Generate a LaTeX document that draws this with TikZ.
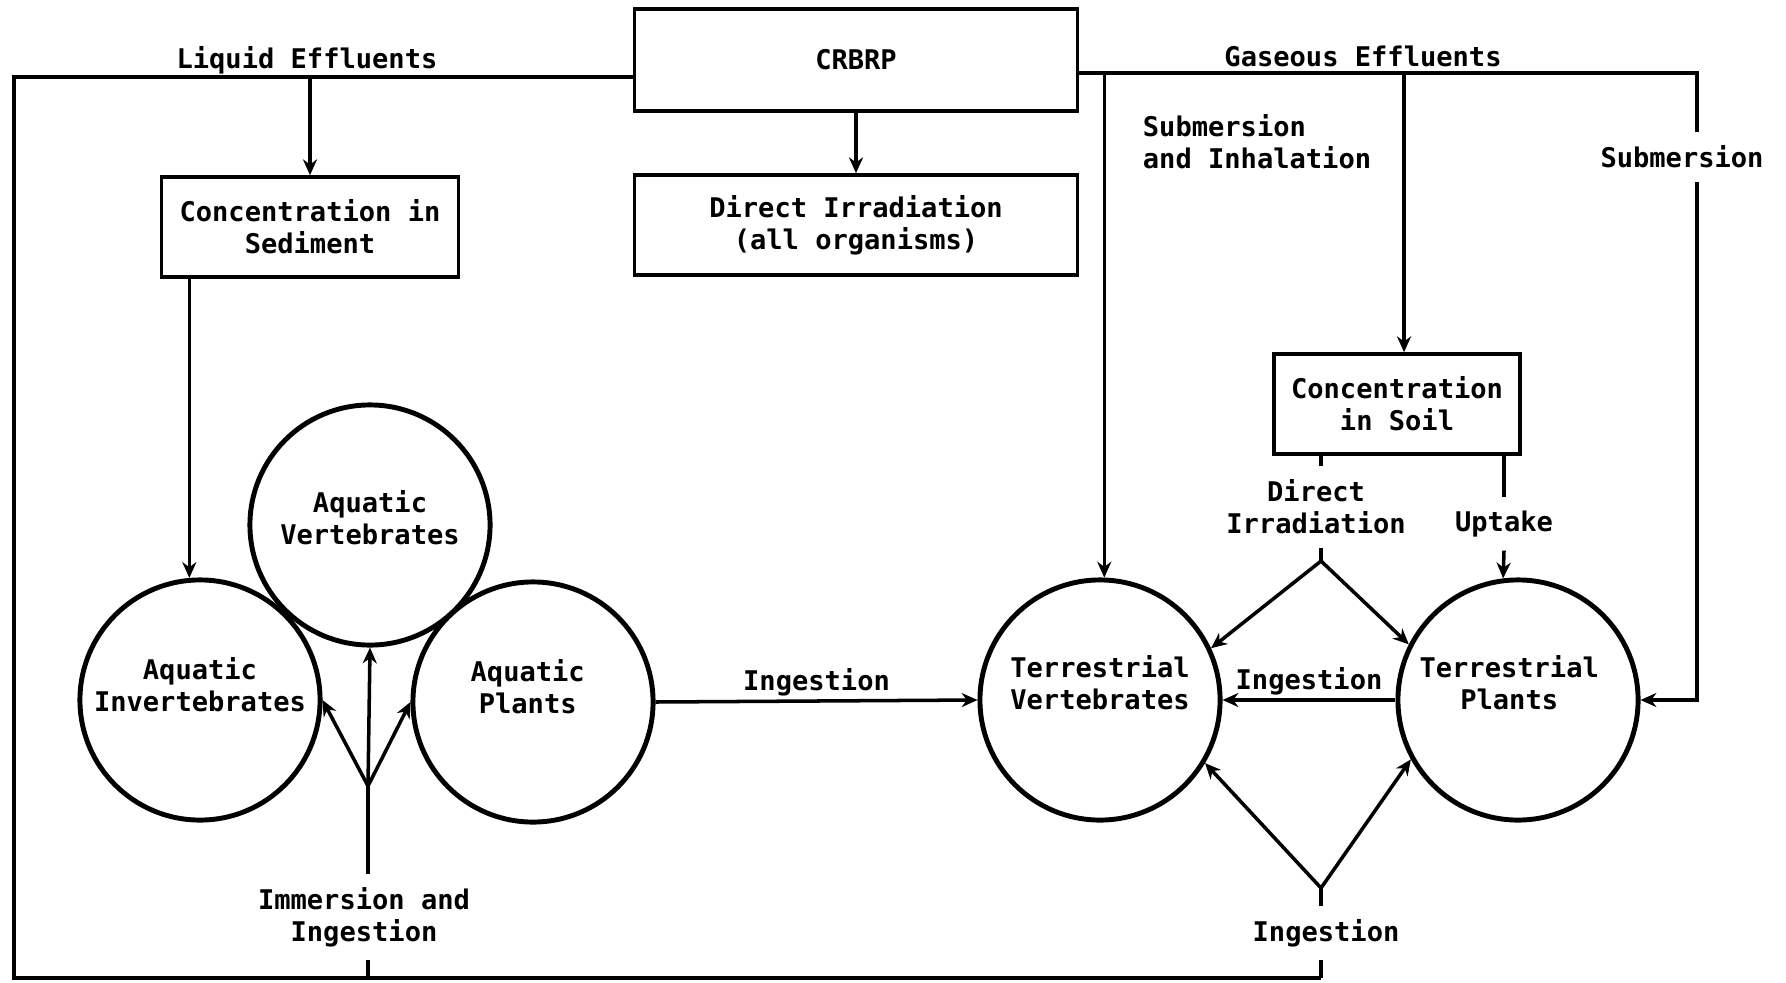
\documentclass[tikz,border=0pt]{standalone}
\usepackage{fontspec}
\setmainfont{DejaVu Sans Mono}
\usetikzlibrary{positioning,arrows.meta}

\tikzset{
  txt/.style={font=\bfseries\fontsize{7.7}{9.1}\selectfont, align=center},
  box/.style={draw, txt, line width=1pt},
  bio/.style={circle, draw, line width=1.4pt, minimum size=2.4cm, inner sep=0pt},
  arr/.style={-{Stealth[length=4.5pt,width=4pt]}}
}

\begin{document}
\begin{tikzpicture}[x=0.01cm, y=-0.01cm, line width=1pt]
    \useasboundingbox (0,0) rectangle (1786,982);

    % boxes
    \node[box, minimum width=4.43cm, minimum height=1.02cm] (crbrp) at (856,60) {CRBRP};
    \node[box, minimum width=4.43cm, minimum height=1cm] (dirr) at (856,225) {Direct Irradiation\\(all organisms)};
    \node[box, minimum width=2.97cm, minimum height=1cm] (sed) at (310,227) {Concentration in\\Sediment};
    \node[box, minimum width=2.46cm, minimum height=1cm] (soil) at (1397,404) {Concentration\\in Soil};

    % organisms
    \node[bio, label={[txt, yshift=4.5pt]center:Aquatic\\Invertebrates}] (aqinv) at (200,700) {};
    \node[bio, label={[txt, yshift=2pt]center:Aquatic\\Vertebrates}] (aqvert) at (370,525) {};
    \node[bio, label={[txt, xshift=-1.5pt, yshift=4.5pt]center:Aquatic\\Plants}] (aqplant) at (533,702) {};
    \node[bio, label={[txt, yshift=5pt]center:Terrestrial\\Vertebrates}] (tvert) at (1100,700) {};
    \node[bio, label={[txt, xshift=-2.5pt, yshift=5pt]center:Terrestrial\\Plants}] (tplant) at (1518,700) {};

    % path labels
    \node[txt] (liq) at (307,60) {Liquid Effluents};
    \node[txt] (gas) at (1363,56) {Gaseous Effluents};
    \node[txt, align=left] (subinh) at (1257,142) {Submersion\\and Inhalation};
    \node[txt] (subm) at (1682,157) {Submersion};
    \node[txt] (imm) at (364,917) {Immersion and\\Ingestion};
    \node[txt] (bing) at (1326,933) {Ingestion};
    \node[txt] (dir) at (1316,507) {Direct\\Irradiation};
    \node[txt] (upt) at (1504,524) {Uptake};

    % junctions
    \coordinate (liqL) at (14,77);
    \coordinate (botL) at (14,978);
    \coordinate (gasR) at (1697,73);
    \coordinate (ajn) at (368,786);
    \coordinate (tjn) at (1321,561);
    \coordinate (bjn) at (1321,888);

    % liquid effluents
    \draw (crbrp.west |- liqL) -- (liqL) -- (botL) -- (botL -| bjn);
    \draw[arr] (sed.north |- liqL) -- (sed.north);
    \draw[arr] (sed.south -| aqinv.95) -- (aqinv.95);
    \draw[arr] (crbrp.south) -- (dirr.north);

    \draw (botL -| ajn) -- (ajn |- imm.south);
    \draw (ajn |- imm.north) -- (ajn);
    \draw[arr] (ajn) -- (aqvert.south);
    \draw[arr] (ajn) -- (aqinv.east);
    \draw[arr] (ajn) -- (aqplant.west);

    \draw[arr] (aqplant.east) -- node[txt, above, inner sep=1pt] (ing1) {Ingestion} (tvert.west);

    % gaseous effluents
    \draw (crbrp.east |- gasR) -- (gasR) -- (gasR |- subm.north);
    \draw[arr] (gasR |- subm.south) -- (gasR |- tplant.east) -- (tplant.east);
    \draw[arr] (tvert.88 |- gasR) -- (tvert.88);
    \draw[arr] ([xshift=2pt]soil.north |- gasR) -- ([xshift=2pt]soil.north);

    \draw (soil.south -| tjn) -- (tjn |- dir.north);
    \draw (tjn |- dir.south) -- (tjn);
    \draw[arr] (tjn) -- (tvert.25);
    \draw[arr] (tjn) -- (tplant.153);
    \draw (soil.south -| upt) -- (upt.north);
    \draw[arr] (upt.south) -- (tplant.97);

    \draw[arr] (tplant.west) -- node[txt, above, inner sep=1pt] (ing2) {Ingestion} (tvert.east);

    \draw (botL -| bjn) -- (bjn |- bing.south);
    \draw (bjn |- bing.north) -- (bjn);
    \draw[arr] (bjn) -- (tvert.-31);
    \draw[arr] (bjn) -- (tplant.209);
\end{tikzpicture}
\end{document}
